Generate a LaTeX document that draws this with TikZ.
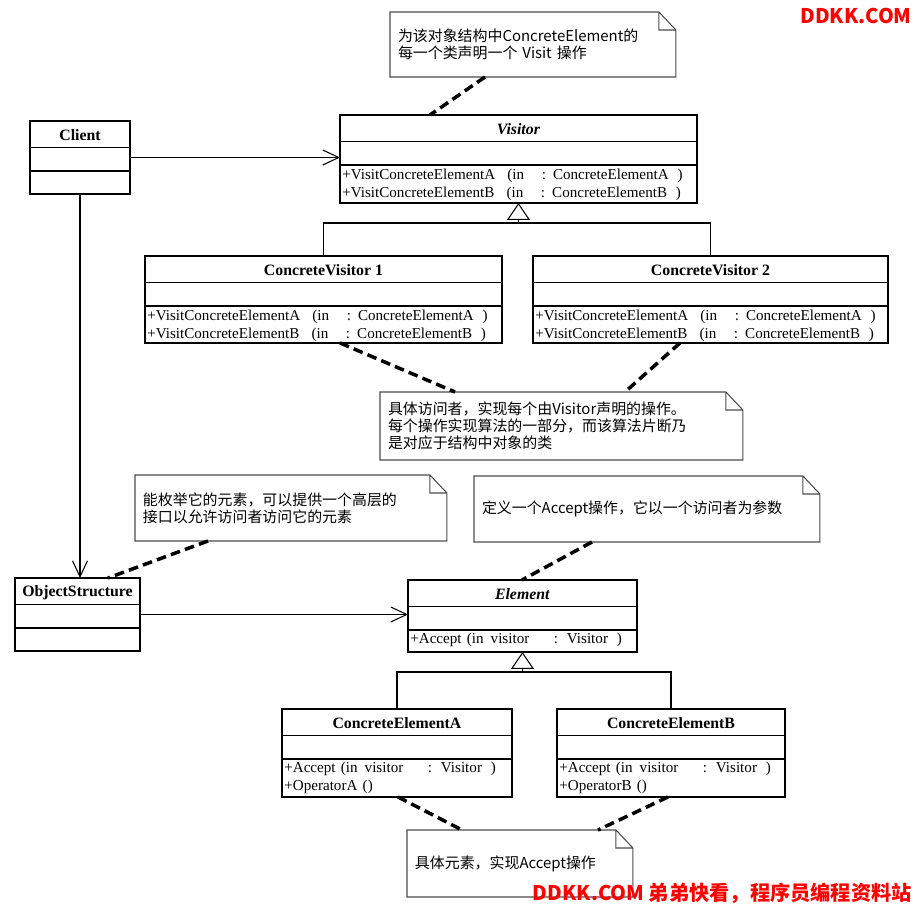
\documentclass[tikz,border=0pt]{standalone}
\usepackage{fontspec}
\setmainfont{Liberation Serif}
\newfontfamily\cjk{Noto Sans CJK SC}
\usetikzlibrary{arrows.meta, positioning, calc}

\begin{document}
\begin{tikzpicture}[x=0.02cm, y=-0.02cm,
  umlclass/.style={draw, line width=0.8pt, anchor=north west, outer sep=0pt, inner sep=0pt},
  clsname/.style={font=\fontsize{9}{10}\selectfont\bfseries, inner sep=0pt},
  ops/.style={font=\fontsize{8.6}{10.2}\selectfont, align=left, anchor=north west, inner sep=0pt},
  note/.style={anchor=north west, outer sep=0pt, inner xsep=1.6mm, inner ysep=0pt, align=left,
    font=\cjk\fontsize{8.5}{9.6}\selectfont},
  notefr/.style={line width=0.6pt, black!70},
  anchorline/.style={line width=2pt, dash pattern=on 5.5pt off 3pt},
  nav/.style={line width=0.6pt, -{Straight Barb[length=3.2mm, width=3mm]}},
  gen/.style={line width=0.6pt},
  wm/.style={text=red, font=\cjk\bfseries\fontsize{11.5}{12}\selectfont, inner sep=0pt}]

  \useasboundingbox (0,0) rectangle (914,908);

  % class boxes
  \node[umlclass, minimum width=2cm,    minimum height=1.46cm] (client)  at (30,121) {};
  \node[umlclass, minimum width=7.14cm, minimum height=1.76cm] (visitor) at (340,115) {};
  \node[umlclass, minimum width=7.14cm, minimum height=1.74cm] (cv1)     at (145,256) {};
  \node[umlclass, minimum width=7.1cm,  minimum height=1.74cm] (cv2)     at (533,256) {};
  \node[umlclass, minimum width=2.5cm,  minimum height=1.46cm] (objs)    at (15,578) {};
  \node[umlclass, minimum width=4.58cm, minimum height=1.44cm] (element) at (408,580) {};
  \node[umlclass, minimum width=4.6cm,  minimum height=1.76cm] (cea)     at (282,709) {};
  \node[umlclass, minimum width=4.56cm, minimum height=1.76cm] (ceb)     at (557,709) {};

  \foreach \c/\t in {client/Client, visitor/\textit{Visitor}, cv1/ConcreteVisitor 1,
      cv2/ConcreteVisitor 2, objs/ObjectStructure, element/\textit{Element},
      cea/ConcreteElementA, ceb/ConcreteElementB}{
    \node[clsname] (\c-name) at ($(\c.north)+(0,14.5)$) {\t};
    \draw[line width=0.8pt] ($(\c.north west)+(0,26.5)$) -- ($(\c.north east)+(0,26.5)$)
      ($(\c.north west)+(0,50)$) -- ($(\c.north east)+(0,50)$);
  }

  % operations
  \foreach \c in {visitor, cv1, cv2}
    \node[ops] (\c-ops) at ($(\c.north west)+(2,54)$)
      {+VisitConcreteElementA\hspace{7pt}(in\hspace{10pt}:\hspace{4pt}ConcreteElementA\hspace{5pt})\\
       +VisitConcreteElementB\hspace{7pt}(in\hspace{10pt}:\hspace{4pt}ConcreteElementB\hspace{5pt})};
  \node[ops] (element-ops) at ($(element.north west)+(2,53)$)
    {+Accept\hspace{3pt}(in\hspace{4pt}visitor\hspace{14pt}:\hspace{5pt}Visitor\hspace{5pt})};
  \foreach \c/\o in {cea/A, ceb/B}
    \node[ops] (\c-ops) at ($(\c.north west)+(2,53)$)
      {+Accept\hspace{3pt}(in\hspace{4pt}visitor\hspace{14pt}:\hspace{5pt}Visitor\hspace{5pt})\\+Operator\o\hspace{3pt}()};

  % notes
  \node[note, text width=5.4cm,  minimum height=1.3cm]  (note1) at (390,12)
    {为该对象结构中ConcreteElement的\\每一个类声明一个 Visit 操作};
  \node[note, text width=6.94cm, minimum height=1.36cm] (note2) at (380,392)
    {具体访问者，实现每个由Visitor声明的操作。\\每个操作实现算法的一部分，而该算法片断乃\\是对应于结构中对象的类};
  \node[note, text width=5.92cm, minimum height=1.32cm] (note3) at (135,475)
    {能枚举它的元素，可以提供一个高层的\\接口以允许访问者访问它的元素};
  \node[note, text width=6.6cm,  minimum height=1.32cm] (note4) at (474,476)
    {定义一个Accept操作，它以一个访问者为参数};
  \node[note, text width=4.2cm,  minimum height=1.34cm] (note5) at (407,830)
    {具体元素，实现Accept操作};

  \foreach \n in {note1, note2, note3, note4, note5}
    \draw[notefr] (\n.north west) -- ($(\n.north east)+(-17,0)$) -- ($(\n.north east)+(0,18)$)
      -- (\n.south east) -- (\n.south west) -- cycle
      ($(\n.north east)+(-17,0)$) |- ($(\n.north east)+(0,18)$);

  \draw[anchorline] ($(note1.south west)+(95,0)$) -- ($(visitor.north west)+(90,0)$);
  \draw[anchorline] ($(cv1.south west)+(195,0)$) -- ($(note2.north west)+(75,0)$);
  \draw[anchorline] ($(cv2.south west)+(147,0)$) -- ($(note2.north west)+(245,0)$);
  \draw[anchorline] ($(note3.south west)+(73,0)$) -- ($(objs.north west)+(93,0)$);
  \draw[anchorline] ($(note4.south west)+(118,0)$) -- ($(element.north west)+(114,0)$);
  \draw[anchorline] ($(cea.south west)+(116,0)$) -- ($(note5.north west)+(55,0)$);
  \draw[anchorline] ($(ceb.south west)+(111,0)$) -- ($(note5.north west)+(191,0)$);

  % generalization
  \draw[gen] (cv1.north) |- ($(visitor.south)+(0,20)$) -| (cv2.north);
  \draw[gen, -{Triangle[open, length=3.4mm, width=4.6mm]}] ($(visitor.south)+(0,20)$) -- (visitor.south);
  \draw[gen] (cea.north) |- ($(element.south)+(0,20)$) -| (ceb.north);
  \draw[gen, -{Triangle[open, length=3.4mm, width=4.6mm]}] ($(element.south)+(0,20)$) -- (element.south);

  % associations
  \draw[nav] (client.east) -- (client.east -| visitor.west);
  \draw[nav] (client.south) -- (client.south |- objs.north);
  \draw[nav] (objs.east) -- (objs.east -| element.west);

  \node[wm, anchor=east] (wmtop) at (912,16) {DDKK.COM};
  \node[wm, anchor=east] (wmbot) at (912,893) {DDKK.COM 弟弟快看，程序员编程资料站};
\end{tikzpicture}
\end{document}
